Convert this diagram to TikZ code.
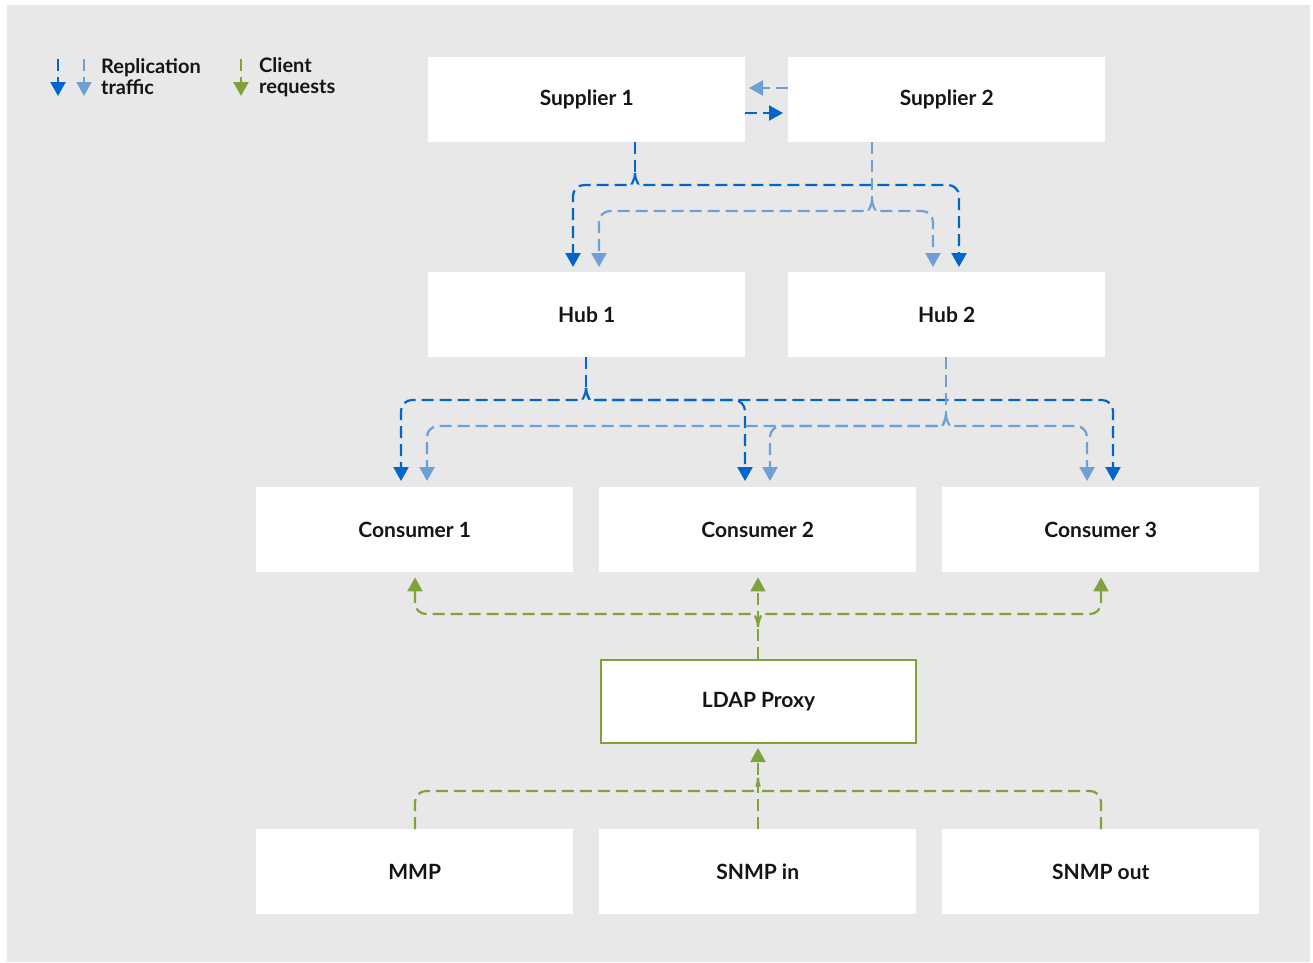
\documentclass[tikz,border=0pt]{standalone}
\usepackage{fontspec}
\setmainfont{Lato}
\usetikzlibrary{arrows.meta}
\definecolor{bg}{HTML}{E8E8E8}
\definecolor{dblue}{HTML}{0066CC}
\definecolor{lblue}{HTML}{6E9FD5}
\definecolor{grn}{HTML}{7FA33A}
\definecolor{txt}{HTML}{151515}
\begin{document}
\begin{tikzpicture}[x=1pt,y=-1pt,
  box/.style={fill=white, draw=none, minimum width=317pt, minimum height=85pt, inner sep=0pt, anchor=north west, text=txt, font=\fontsize{21}{24}\selectfont\bfseries},
  rep/.style={dash pattern=on 12pt off 6pt, line width=2.2pt, rounded corners=11pt},
  dk/.style={rep, draw=dblue},
  lt/.style={rep, draw=lblue},
  gr/.style={rep, draw=grn},
  tip/.style={-{Triangle[width=15pt,length=14pt]}},
  legtext/.style={anchor=west, align=left, text=txt, inner sep=0pt, font=\fontsize{20}{21}\selectfont\bfseries}
]
\useasboundingbox (0,0) rectangle (1313,962);
\fill[bg] (7,5) rectangle (1310,962);

% nodes
\node[box] (s1) at (428,57) {Supplier 1};
\node[box] (s2) at (788,57) {Supplier 2};
\node[box] (h1) at (428,272) {Hub 1};
\node[box] (h2) at (788,272) {Hub 2};
\node[box] (c1) at (256,487) {Consumer 1};
\node[box] (c2) at (599,487) {Consumer 2};
\node[box] (c3) at (942,487) {Consumer 3};
\node[box, draw=grn, line width=2pt, minimum width=315pt, minimum height=83pt] (px) at (600,659) {LDAP Proxy};
\node[box] (m1) at (256,829) {MMP};
\node[box] (m2) at (599,829) {SNMP in};
\node[box] (m3) at (942,829) {SNMP out};

% legend
\draw[dk, tip] (58,59) -- (58,96);
\draw[lt, tip] (84,59) -- (84,96);
\draw[gr, tip] (241,59) -- (241,96);
\node[legtext] (lg1) at (101,77) {Replication\\traffic};
\node[legtext] (lg2) at (259,77) {Client\\requests};

% supplier to supplier
\draw[lt, tip] (s2.west |- 0,88) -- (749,88);
\draw[dk, tip] (s1.east |- 0,113) -- (783,113);

% supplier 1 -> hubs (dark)
\coordinate (k1) at (635,173);
\draw[dk] (635,0 |- s1.south) -- (k1);
\draw[dk, tip, shorten >=5pt] (k1) .. controls (635,181) and (630,185) .. (621,185) -- (573,185) -- (573,0 |- h1.north);
\draw[dk, tip, shorten >=5pt] (k1) .. controls (635,181) and (640,185) .. (649,185) -- (959,185) -- (959,0 |- h2.north);

% supplier 2 -> hubs (light)
\coordinate (k2) at (872,199);
\draw[lt] (872,0 |- s2.south) -- (k2);
\draw[lt, tip, shorten >=5pt] (k2) .. controls (872,207) and (867,211) .. (858,211) -- (599,211) -- (599,0 |- h1.north);
\draw[lt, tip, shorten >=5pt] (k2) .. controls (872,207) and (877,211) .. (886,211) -- (933,211) -- (933,0 |- h2.north);

% hub 1 -> consumers (dark)
\coordinate (k3) at (586,388);
\draw[dk] (586,0 |- h1.south) -- (k3);
\draw[dk, tip, shorten >=6pt] (k3) .. controls (586,396) and (581,400) .. (572,400) -- (401,400) -- (401,0 |- c1.north);
\draw[dk, tip, shorten >=6pt] (k3) .. controls (586,396) and (591,400) .. (600,400) -- (745,400) -- (745,0 |- c2.north);
\draw[dk, tip, shorten >=6pt] (k3) .. controls (586,396) and (591,400) .. (600,400) -- (1113,400) -- (1113,0 |- c3.north);

% hub 2 -> consumers (light)
\coordinate (k4) at (946,414);
\draw[lt] (946,0 |- h2.south) -- (k4);
\draw[lt, tip, shorten >=6pt] (k4) .. controls (946,422) and (941,426) .. (932,426) -- (427,426) -- (427,0 |- c1.north);
\draw[lt, tip, shorten >=6pt] (k4) .. controls (946,422) and (941,426) .. (932,426) -- (770,426) -- (770,0 |- c2.north);
\draw[lt, tip, shorten >=6pt] (k4) .. controls (946,422) and (951,426) .. (960,426) -- (1087,426) -- (1087,0 |- c3.north);

% proxy -> consumers (green)
\coordinate (k5) at (758,627);
\draw[gr, tip, shorten >=5pt] (758,0 |- px.north) -- (758,0 |- c2.south);
\draw[gr, tip, shorten >=5pt] (k5) .. controls (758,619) and (753,614) .. (744,614) -- (415,614) -- (415,0 |- c1.south);
\draw[gr, tip, shorten >=5pt] (k5) .. controls (758,619) and (763,614) .. (772,614) -- (1101,614) -- (1101,0 |- c3.south);

% sources -> proxy (green)
\coordinate (k6) at (758,778);
\draw[gr, tip, shorten >=4pt] (758,0 |- m2.north) -- (758,0 |- px.south);
\draw[gr] (415,0 |- m1.north) -- (415,791) -- (744,791) .. controls (753,791) and (758,787) .. (k6);
\draw[gr] (1101,0 |- m3.north) -- (1101,791) -- (772,791) .. controls (763,791) and (758,787) .. (k6);
\end{tikzpicture}
\end{document}
